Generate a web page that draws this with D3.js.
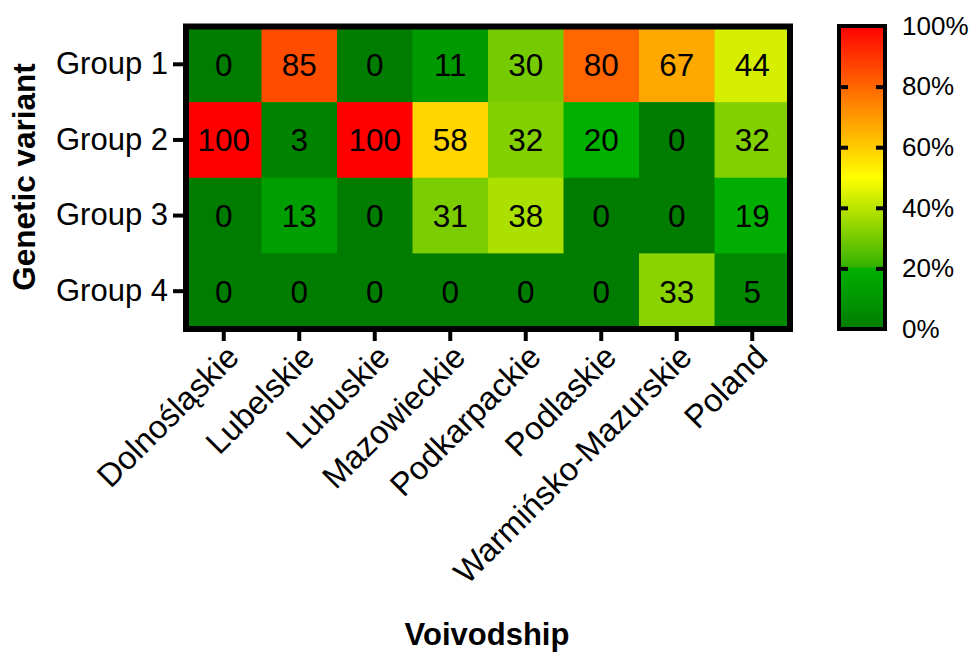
<!DOCTYPE html>
<html>
<head>
<meta charset="utf-8">
<script src="https://d3js.org/d3.v7.min.js"></script>
<style>
  body { margin: 0; background: #fff; }
  svg text { font-family: 'Liberation Sans', Arial, sans-serif; fill: #000; }
</style>
</head>
<body>
<svg id="chart" width="973" height="653"></svg>
<script>
// data (percent of samples)
const voivodships = ['Dolnośląskie', 'Lubelskie', 'Lubuskie', 'Mazowieckie',
    'Podkarpackie', 'Podlaskie', 'Warmińsko-Mazurskie', 'Poland'];
const groups = ['Group 1', 'Group 2', 'Group 3', 'Group 4'];
const group1 = [0, 85, 0, 11, 30, 80, 67, 44];
const group2 = [100, 3, 100, 58, 32, 20, 0, 32];
const group3 = [0, 13, 0, 31, 38, 0, 0, 19];
const group4 = [0, 0, 0, 0, 0, 0, 33, 5];
const legendTicks = [0, 20, 40, 60, 80, 100];

const rowsData = [group1, group2, group3, group4];
const cells = [];
rowsData.forEach((vals, r) => {
    vals.forEach((v, c) => cells.push({ row: groups[r], col: voivodships[c], value: v }));
});

const svg = d3.select('#chart');

const x = d3.scaleBand().domain(voivodships).range([186, 790]);
const y = d3.scaleBand().domain(groups).range([26.5, 329]);

// green -> (step at 20%) -> yellow -> red, like the Prism palette
const color = d3.scaleLinear()
    .domain([0, 20, 20.5, 50, 100])
    .range(['rgb(0,124,0)', 'rgb(0,176,0)', 'rgb(52,178,0)', '#ffff00', '#ff0000']);

// cells
svg.append('g').selectAll('rect').data(cells).enter().append('rect')
    .attr('x', d => x(d.col))
    .attr('y', d => y(d.row))
    .attr('width', x.bandwidth() + 0.6)
    .attr('height', y.bandwidth() + 0.6)
    .attr('fill', d => color(d.value));

svg.append('g').selectAll('text').data(cells).enter().append('text')
    .attr('x', d => x(d.col) + x.bandwidth() / 2)
    .attr('y', d => y(d.row) + y.bandwidth() / 2)
    .attr('dy', '0.36em')
    .attr('text-anchor', 'middle')
    .style('font-size', '31.5px')
    .text(d => d.value);

// frame
svg.append('rect')
    .attr('x', 186).attr('y', 26.5)
    .attr('width', 604).attr('height', 302.5)
    .attr('fill', 'none').attr('stroke', '#000').attr('stroke-width', 6);

// y axis
const yAxis = svg.append('g')
    .attr('transform', 'translate(183,0)')
    .call(d3.axisLeft(y).tickSize(10).tickPadding(5));
yAxis.select('.domain').remove();
yAxis.selectAll('line').attr('stroke', '#000').attr('stroke-width', 4);
yAxis.selectAll('text').style('font-size', '31px').attr('fill', '#000');

// x axis
const xAxis = svg.append('g')
    .attr('transform', 'translate(0,332)')
    .call(d3.axisBottom(x).tickSize(9));
xAxis.select('.domain').remove();
xAxis.selectAll('line').attr('stroke', '#000').attr('stroke-width', 4);
xAxis.selectAll('text')
    .attr('x', 0).attr('y', 0).attr('dy', 0)
    .attr('text-anchor', 'end')
    .attr('transform', 'translate(17,27) rotate(-45)')
    .style('font-size', '32.5px')
    .attr('fill', '#000');

// axis titles
svg.append('text')
    .attr('transform', 'translate(35,177) rotate(-90)')
    .attr('text-anchor', 'middle')
    .style('font-size', '31.5px').style('font-weight', 'bold')
    .text('Genetic variant');

svg.append('text')
    .attr('x', 487).attr('y', 645)
    .attr('text-anchor', 'middle')
    .style('font-size', '31px').style('font-weight', 'bold')
    .text('Voivodship');

// colour bar
const c = d3.scaleLinear().domain([0, 100]).range([329, 26]);

const grad = svg.append('defs').append('linearGradient')
    .attr('id', 'heat')
    .attr('x1', 0).attr('y1', 1).attr('x2', 0).attr('y2', 0);
grad.selectAll('stop').data(color.domain()).enter().append('stop')
    .attr('offset', d => d / 100)
    .attr('stop-color', d => color(d));

svg.append('rect')
    .attr('x', 839).attr('y', c(100))
    .attr('width', 46).attr('height', c(0) - c(100))
    .attr('fill', 'url(#heat)')
    .attr('stroke', '#000').attr('stroke-width', 4);

const inner = legendTicks.slice(1, -1);
const leftTicks = svg.append('g')
    .attr('transform', 'translate(841,0)')
    .call(d3.axisLeft(c).tickValues(inner).tickSize(-7).tickFormat(''));
const rightTicks = svg.append('g')
    .attr('transform', 'translate(883,0)')
    .call(d3.axisRight(c).tickValues(inner).tickSize(-7).tickFormat(''));
[leftTicks, rightTicks].forEach(g => {
    g.select('.domain').remove();
    g.selectAll('line').attr('stroke', '#000').attr('stroke-width', 4);
});

const legendAxis = svg.append('g')
    .attr('transform', 'translate(885,0)')
    .call(d3.axisRight(c).tickValues(legendTicks).tickSize(0).tickPadding(17)
        .tickFormat(d => d + '%'));
legendAxis.select('.domain').remove();
legendAxis.selectAll('text').style('font-size', '26px').attr('fill', '#000');
</script>
</body>
</html>
